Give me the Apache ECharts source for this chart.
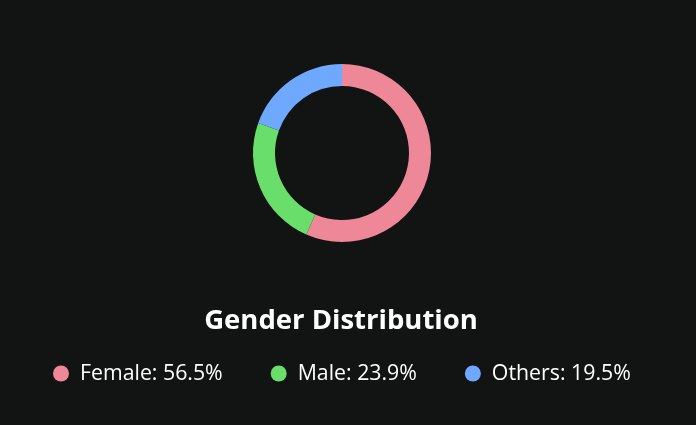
<!DOCTYPE html>
<html>
<head>
<meta charset="utf-8">
<script src="https://cdn.jsdelivr.net/npm/echarts@6/dist/echarts.min.js"></script>
<style>
  html, body { margin: 0; padding: 0; background: #111412; }
  #chart { width: 696px; height: 425px; }
</style>
</head>
<body>
<div id="chart"></div>
<script>
var chart = echarts.init(document.getElementById('chart'));

var categories = ['Female', 'Male', 'Others'];
var values = [56.5, 23.9, 19.5];
var colors = ['#ee8899', '#6ade6a', '#6fa8ff'];

var pieData = [];
for (var i = 0; i < categories.length; i++) {
    pieData.push({ name: categories[i], value: values[i] });
}

var option = {
    backgroundColor: '#111412',
    color: colors,
    title: {
        text: 'Gender Distribution',
        left: 336,
        textAlign: 'center',
        top: 302,
        textStyle: {
            color: '#ffffff',
            fontFamily: 'Open Sans',
            fontWeight: 'bold',
            fontSize: 27.5
        }
    },
    legend: {
        left: 48,
        top: 358,
        icon: 'circle',
        itemWidth: 16,
        itemHeight: 16,
        itemGap: 48,
        textStyle: {
            color: '#ffffff',
            fontFamily: 'Open Sans',
            fontSize: 21.3,
            padding: [0, 0, 0, 6]
        },
        formatter: function (name) {
            var idx = categories.indexOf(name);
            return name + ': ' + values[idx].toFixed(1) + '%';
        }
    },
    series: [{
        type: 'pie',
        center: [342, 153],
        radius: [67, 89],
        startAngle: 90,
        clockwise: true,
        label: { show: false },
        labelLine: { show: false },
        itemStyle: { borderWidth: 0 },
        animation: false,
        data: pieData
    }]
};
chart.setOption(option);
</script>
</body>
</html>
